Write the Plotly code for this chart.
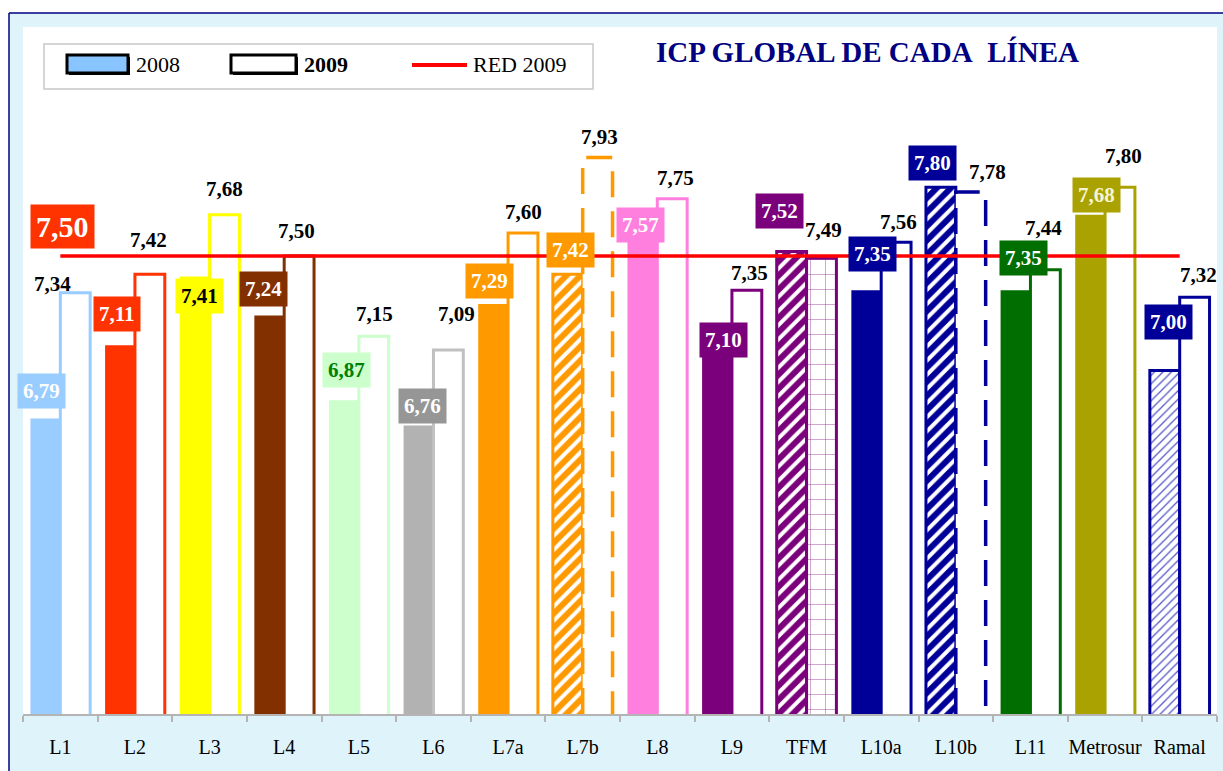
import plotly.graph_objects as go

# ---------------- data ----------------
categories = ["L1", "L2", "L3", "L4", "L5", "L6", "L7a", "L7b", "L8", "L9",
              "TFM", "L10a", "L10b", "L11", "Metrosur", "Ramal"]
icp_2008 = [6.79, 7.11, 7.41, 7.24, 6.87, 6.76, 7.29, 7.42, 7.57, 7.10,
            7.52, 7.35, 7.80, 7.35, 7.68, 7.00]
icp_2009 = [7.34, 7.42, 7.68, 7.50, 7.15, 7.09, 7.60, 7.93, 7.75, 7.35,
            7.49, 7.56, 7.78, 7.44, 7.80, 7.32]
red_2009 = 7.50

# ---------------- styles ----------------
FONT = "Liberation Serif"
line_colors = ["#99ccff", "#ff3300", "#ffff00", "#833000", "#ccffcc", "#c0c0c0",
               "#ff9900", "#ff9900", "#ff7fdf", "#7b007b", "#7b007b", "#000099",
               "#000099", "#006e00", "#aaa200", "#000099"]
fill_2008 = ["#99ccff", "#ff3300", "#ffff00", "#833000", "#ccffcc", "#b2b2b2",
             "#ff9900", "white", "#ff7fdf", "#7b007b", "white", "#000099",
             "white", "#006e00", "#aaa200", "white"]
pat_2008 = ["", "", "", "", "", "", "", "/", "", "", "/", "", "/", "", "", "/"]
pat_fg_2008 = list(line_colors)
pat_fg_2008[15] = "#5a5ac8"
pat_size_2008 = [10] * 16
pat_size_2008[15] = 6
pat_sol_2008 = [0.6] * 16
pat_sol_2008[15] = 0.22

dashed_2009 = [7, 12]
pat_2009 = ["+" if i == 10 else "" for i in range(16)]

box_bg = ["#99ccff", "#ff3300", "#ffff00", "#833000", "#ccffcc", "#969696",
          "#ff9900", "#ff9900", "#ff7fdf", "#7b007b", "#7b007b", "#000099",
          "#000099", "#006e00", "#aaa200", "#000099"]
box_fg = ["white", "white", "black", "white", "#008000", "white",
          "white", "white", "white", "white", "white", "white",
          "white", "white", "#f4f4d8", "white"]
# label offsets in pixels (x shift, y shift) from bar tops
off_2008 = [(-4, 28), (-3, 31), (5, -19), (-6, 27), (3, 30), (4, 19),
            (-4, 23), (3, 24), (-2, 15), (6, 8), (-12, 40), (6, 36),
            (-8, 24), (8, 32), (6, 20), (4, 49)]
off_2009 = [(-23, 9), (-1, 34), (0, 26), (-3, 25), (1, 22), (8, 36),
            (1, 21), (2, 21), (3, 21), (3, 17), (2, 28), (2, 20),
            (17, 20), (-2, 42), (4, 31), (4, 22)]

W, H = 1223, 771
L, R, T, B = 23, 6, 27, 57
def px(x):
    return (x - L) / (W - L - R)
def py(y):
    return (H - B - y) / (H - T - B)

def fmt(v):
    return f"{v:.2f}".replace(".", ",")

xs = list(range(len(categories)))
BW = 0.4
fig = go.Figure()

for i in xs:
    patterned = pat_2008[i] != ""
    pattern = dict(shape=pat_2008[i], fgcolor=pat_fg_2008[i], bgcolor="white",
                   fgopacity=1, size=pat_size_2008[i],
                   solidity=pat_sol_2008[i]) if patterned else dict(shape="")
    fig.add_trace(go.Bar(
        x=[xs[i]], y=[icp_2008[i]], width=BW, offset=-BW, name="2008",
        marker=dict(color=fill_2008[i],
                    line=dict(color=line_colors[i], width=3 if patterned else 0),
                    pattern=pattern),
        hoverinfo="skip"))

for i in xs:
    pattern = dict(shape="+", fgcolor="#9a3c9a", bgcolor="white", fgopacity=1,
                   size=15, solidity=0.06) if pat_2009[i] else dict(shape="")
    fig.add_trace(go.Bar(
        x=[xs[i]], y=[icp_2009[i]], width=BW, offset=0, name="2009",
        marker=dict(color="white",
                    line=dict(color=line_colors[i], width=0 if i in dashed_2009 else 3),
                    pattern=pattern),
        hoverinfo="skip"))

for i in dashed_2009:
    v = icp_2009[i]
    fig.add_trace(go.Scatter(
        x=[i, i, i + BW, i + BW], y=[5.5, v, v, 5.5], mode="lines",
        line=dict(color=line_colors[i], width=3.5, dash="26px,14px"),
        hoverinfo="skip"))

fig.add_trace(go.Scatter(
    x=[xs[0], xs[-1]], y=[red_2009, red_2009], mode="lines",
    line=dict(color="#ff0000", width=3.5), hoverinfo="skip", name="RED 2009"))

ann = []
for i, v in enumerate(icp_2008):
    dx, dy = off_2008[i]
    ann.append(dict(x=i - BW / 2, y=v, xref="x", yref="y", text=f"<b>{fmt(v)}</b>",
                    showarrow=False, xshift=dx, yshift=dy, bgcolor=box_bg[i],
                    borderpad=5, font=dict(family=FONT, size=21, color=box_fg[i])))
for i, v in enumerate(icp_2009):
    dx, dy = off_2009[i]
    ann.append(dict(x=i + BW / 2, y=v, xref="x", yref="y", text=f"<b>{fmt(v)}</b>",
                    showarrow=False, xshift=dx, yshift=dy,
                    font=dict(family=FONT, size=21, color="black")))
ann.append(dict(x=xs[0], y=red_2009, xref="x", yref="y", text=f"<b>{fmt(red_2009)}</b>",
                showarrow=False, xshift=2, yshift=30, bgcolor="#ff3300", borderpad=5,
                font=dict(family=FONT, size=30, color="white")))

# title
ann.append(dict(x=px(867), y=py(52), xref="paper", yref="paper",
                text="<b>ICP GLOBAL DE CADA\u00a0 LÍNEA</b>", showarrow=False,
                xanchor="center", yanchor="middle",
                font=dict(family=FONT, size=29, color="#000080")))
# legend texts
ann.append(dict(x=px(134), y=py(64), xref="paper", yref="paper", text="2008",
                showarrow=False, xanchor="left", yanchor="middle",
                font=dict(family=FONT, size=22, color="black")))
ann.append(dict(x=px(302), y=py(64), xref="paper", yref="paper", text="<b>2009</b>",
                showarrow=False, xanchor="left", yanchor="middle",
                font=dict(family=FONT, size=22, color="black")))
ann.append(dict(x=px(471), y=py(64), xref="paper", yref="paper", text="RED 2009",
                showarrow=False, xanchor="left", yanchor="middle",
                font=dict(family=FONT, size=22, color="black")))

shapes = [
    dict(type="rect", xref="paper", yref="paper", x0=px(9), x1=px(1240), y0=py(800), y1=py(13),
         fillcolor="#dff3fb", line=dict(width=0), layer="below"),
    dict(type="rect", xref="paper", yref="paper", x0=0, x1=1, y0=0, y1=1,
         fillcolor="white", line=dict(width=0), layer="below"),
    dict(type="line", xref="paper", yref="paper", x0=px(9), x1=px(1240), y0=py(13), y1=py(13),
         line=dict(color="#000080", width=1.5), layer="below"),
    dict(type="line", xref="paper", yref="paper", x0=px(9), x1=px(9), y0=py(13), y1=py(800),
         line=dict(color="#000080", width=1.5), layer="below"),
    # legend box
    dict(type="rect", xref="paper", yref="paper", x0=px(44), x1=px(593), y0=py(89), y1=py(44),
         fillcolor="white", line=dict(color="#c8c8c8", width=1.5)),
    dict(type="rect", xref="paper", yref="paper", x0=px(69), x1=px(130), y0=py(75), y1=py(57),
         fillcolor="black", line=dict(width=0)),
    dict(type="rect", xref="paper", yref="paper", x0=px(67), x1=px(128), y0=py(73), y1=py(55),
         fillcolor="#88c4ff", line=dict(color="black", width=3)),
    dict(type="rect", xref="paper", yref="paper", x0=px(233), x1=px(298), y0=py(75), y1=py(57),
         fillcolor="black", line=dict(width=0)),
    dict(type="rect", xref="paper", yref="paper", x0=px(231), x1=px(296), y0=py(73), y1=py(55),
         fillcolor="white", line=dict(color="black", width=3)),
    dict(type="line", xref="paper", yref="paper", x0=px(412), x1=px(467), y0=py(65), y1=py(65),
         line=dict(color="#ff0000", width=4)),
]

fig.update_layout(
    width=W, height=H, margin=dict(l=L, r=R, t=T, b=B, pad=0),
    paper_bgcolor="white", plot_bgcolor="white",
    barmode="overlay",
    showlegend=False, annotations=ann, shapes=shapes,
    font=dict(family=FONT),
    xaxis=dict(range=[-0.5, 15.5], tickmode="array", tickvals=xs, ticktext=categories,
               ticks="", showline=True, linecolor="#b4b4b4", linewidth=1.5,
               showgrid=False, zeroline=False, ticklabelstandoff=14,
               tickfont=dict(family=FONT, size=20, color="black"),
               minor=dict(tickmode="array", tickvals=[i - 0.5 for i in range(17)],
                          ticks="outside", ticklen=6, tickwidth=1.5, tickcolor="#b4b4b4",
                          showgrid=False)),
    yaxis=dict(range=[5.5, 8.5], visible=False, showgrid=False, zeroline=False),
)

fig.write_html("out.html", config={"displayModeBar": False},
               post_script="document.body.style.margin='0';")
